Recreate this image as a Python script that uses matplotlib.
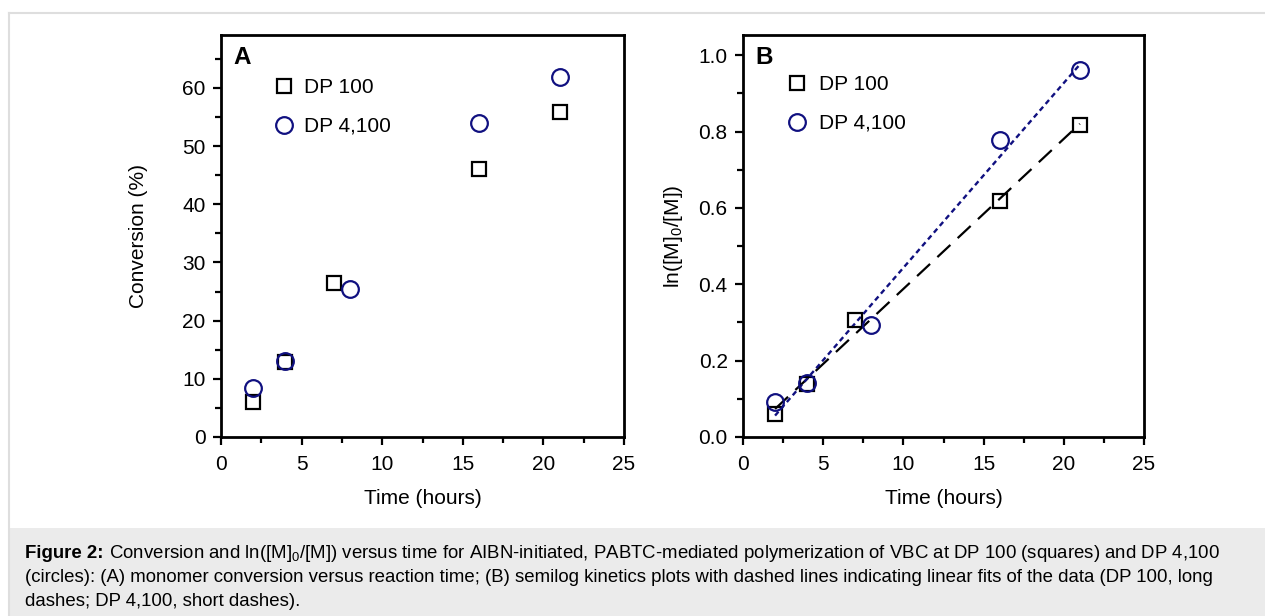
import numpy as np
import matplotlib
matplotlib.use("Agg")
import matplotlib.pyplot as plt
from matplotlib.patches import Rectangle
from matplotlib.lines import Line2D
from matplotlib.ticker import MultipleLocator, FormatStrFormatter

plt.rcParams['font.family'] = ['Liberation Sans', 'DejaVu Sans']
plt.rcParams['mathtext.default'] = 'regular'

# ---- data ----
time_sq = [2, 4, 7, 16, 21]          # DP 100
time_ci = [2, 4, 8, 16, 21]          # DP 4,100
conv_sq = [6.0, 12.9, 26.4, 46.0, 55.8]
conv_ci = [8.5, 13.1, 25.4, 54.0, 61.8]
ln_sq = [0.060, 0.139, 0.307, 0.617, 0.817]
ln_ci = [0.091, 0.141, 0.294, 0.778, 0.961]
labels = ['DP 100', 'DP 4,100']
x_ticks = [0, 5, 10, 15, 20, 25]

W, H = 1265, 616
fig = plt.figure(figsize=(W / 100, H / 100), dpi=100)

# frame and caption background
fig.add_artist(Line2D([9 / W, 1], [1 - 13 / H, 1 - 13 / H], color='#dedede', lw=1.5))
fig.add_artist(Line2D([9 / W, 9 / W], [1 - 13 / H, 0], color='#dedede', lw=1.5))
fig.add_artist(Rectangle((9 / W, 0), 1 - 9 / W, (H - 528) / H, facecolor='#ebebeb',
                         edgecolor='none', transform=fig.transFigure, zorder=0))

navy = '#101080'
FS = 15

def style(ax):
    for s in ax.spines.values():
        s.set_linewidth(2.0)
    ax.tick_params(which='both', direction='out', width=1.6, labelsize=FS, top=False, right=False)
    ax.tick_params(which='major', length=6)
    ax.tick_params(axis='x', which='major', pad=7)
    ax.tick_params(axis='y', which='major', pad=5)
    ax.tick_params(which='minor', length=4)
    ax.set_xlim(0, 25)
    ax.set_xticks(x_ticks)
    ax.xaxis.set_minor_locator(MultipleLocator(2.5))

axA = fig.add_axes([221 / W, (H - 437) / H, 403 / W, 402 / H])
axB = fig.add_axes([743 / W, (H - 437) / H, 401 / W, 402 / H])

ms_sq, ms_ci, mew = 10.5, 12, 1.6

# Panel A
axA.plot(time_sq, conv_sq, ls='none', marker='s', ms=ms_sq, mfc='none', mec='black', mew=mew, label=labels[0])
axA.plot(time_ci, conv_ci, ls='none', marker='o', ms=ms_ci, mfc='none', mec=navy, mew=mew, label=labels[1])
style(axA)
axA.set_ylim(0, 69.1)
axA.yaxis.set_major_locator(MultipleLocator(10))
axA.yaxis.set_minor_locator(MultipleLocator(5))
axA.set_xlabel('Time (hours)', fontsize=FS, va='center', ha='center')
axA.xaxis.set_label_coords(0.5, (437 - 498) / 402)
axA.set_ylabel('Conversion (%)', fontsize=FS, va='center', ha='center')
axA.yaxis.set_label_coords((138 - 221) / 403, 0.5)
axA.text((242 - 221) / 403, (437 - 58) / 402, 'A', transform=axA.transAxes, fontsize=17.5,
         fontweight='bold', ha='center', va='center')
axA.legend(loc='upper left', bbox_to_anchor=((273.5 - 221) / 403, (437 - 78) / 402), frameon=False,
           fontsize=FS, handlelength=1.0, handletextpad=0.45, labelspacing=0.95,
           borderpad=0, borderaxespad=0)

# Panel B
fit_sq = np.polyfit(time_sq, ln_sq, 1)
fit_ci = np.polyfit(time_ci, ln_ci, 1)
xs_sq = np.array([min(time_sq), max(time_sq)])
xs_ci = np.array([min(time_ci), max(time_ci)])
axB.plot(xs_sq, np.polyval(fit_sq, xs_sq), color='black', lw=1.6, ls=(0, (8, 4.5)))
axB.plot(xs_ci, np.polyval(fit_ci, xs_ci), color=navy, lw=1.7, ls=(0, (2.2, 1.6)))
axB.plot(time_sq, ln_sq, ls='none', marker='s', ms=ms_sq, mfc='none', mec='black', mew=mew, label=labels[0])
axB.plot(time_ci, ln_ci, ls='none', marker='o', ms=ms_ci, mfc='none', mec=navy, mew=mew, label=labels[1])
style(axB)
axB.set_ylim(0, 1.053)
axB.yaxis.set_major_locator(MultipleLocator(0.2))
axB.yaxis.set_minor_locator(MultipleLocator(0.1))
axB.yaxis.set_major_formatter(FormatStrFormatter('%.1f'))
axB.set_xlabel('Time (hours)', fontsize=FS, va='center', ha='center')
axB.xaxis.set_label_coords(0.5, (437 - 498) / 402)
axB.set_ylabel('ln([M]$_0$/[M])', fontsize=FS, va='center', ha='center')
axB.yaxis.set_label_coords((673 - 743) / 401, 0.5)
axB.text((764 - 743) / 401, (437 - 57) / 402, 'B', transform=axB.transAxes, fontsize=17.5,
         fontweight='bold', ha='center', va='center')
axB.legend(loc='upper left', bbox_to_anchor=((786.5 - 743) / 401, (437 - 75) / 402), frameon=False,
           fontsize=FS, handlelength=1.0, handletextpad=0.55, labelspacing=0.95,
           borderpad=0, borderaxespad=0)

# Caption
CFS = 13.4
x0 = 25 / W
t1 = fig.text(x0, 1 - 558.5 / H, 'Figure 2:', fontsize=CFS, fontweight='bold', va='baseline', ha='left')
fig.canvas.draw()
bb = t1.get_window_extent()
fig.text(bb.x1 / W, 1 - 558.5 / H,
         ' Conversion and ln([M]$_0$/[M]) versus time for AIBN-initiated, PABTC-mediated polymerization '
         'of VBC at DP 100 (squares) and DP 4,100',
         fontsize=CFS, va='baseline', ha='left')
fig.text(x0, 1 - 582.5 / H,
         '(circles): (A) monomer conversion versus reaction time; (B) semilog kinetics plots with dashed '
         'lines indicating linear fits of the data (DP 100, long',
         fontsize=CFS, va='baseline', ha='left')
fig.text(x0, 1 - 606.5 / H, 'dashes; DP 4,100, short dashes).', fontsize=CFS, va='baseline', ha='left')

fig.savefig('out.png', dpi=100)
